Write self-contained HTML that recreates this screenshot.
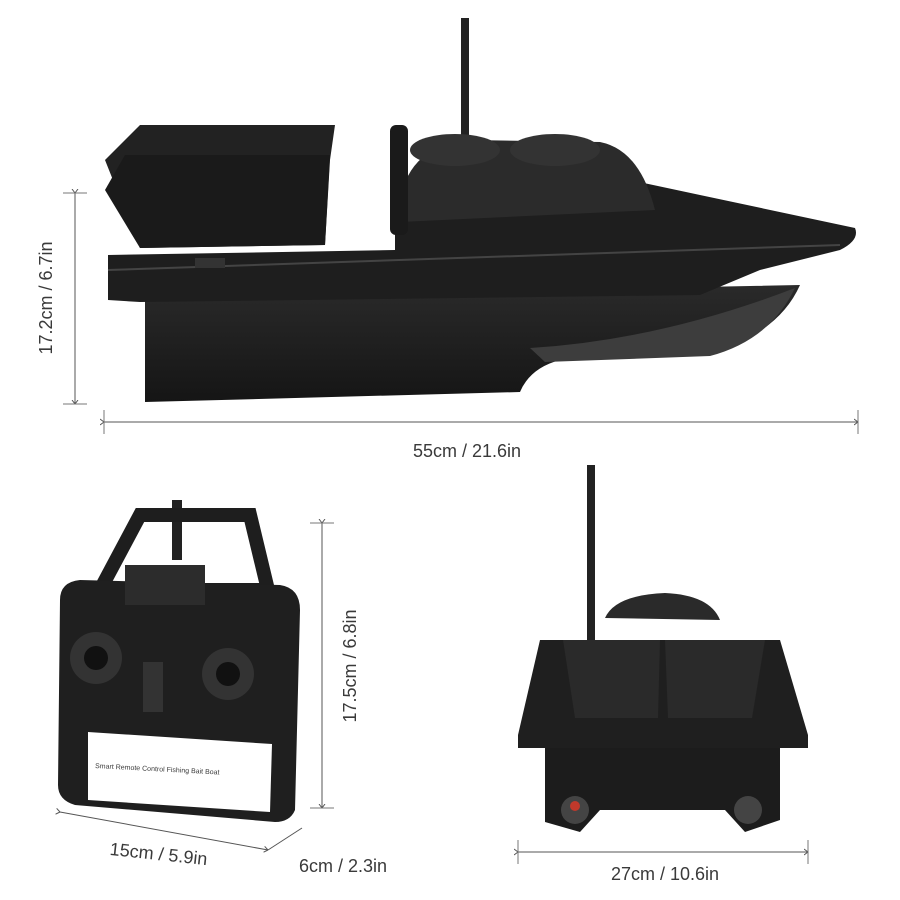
<!DOCTYPE html>
<html><head><meta charset="utf-8"><style>
html,body{margin:0;padding:0;background:#fff;}
svg{display:block}
text{font-family:"Liberation Sans",sans-serif;fill:#3a3a3a;font-size:18px}
</style></head><body>
<svg width="900" height="900" viewBox="0 0 900 900" xmlns="http://www.w3.org/2000/svg">
<defs>
<marker id="a" markerWidth="8" markerHeight="8" refX="4" refY="4" orient="auto"><path d="M4,4 L0,1 M4,4 L0,7" stroke="#555" stroke-width="1" fill="none"/></marker>
<linearGradient id="hull" x1="0" y1="0" x2="0" y2="1"><stop offset="0" stop-color="#2a2a2a"/><stop offset="1" stop-color="#151515"/></linearGradient>
</defs>

<!-- top boat side view -->
<rect x="461" y="18" width="8" height="120" fill="#222"/>
<path d="M145,298 L800,285 Q780,330 720,350 L560,360 Q530,368 520,392 L145,402 Z" fill="url(#hull)"/>
<path d="M530,348 Q660,340 795,288 Q770,340 710,356 L545,362 Z" fill="#3d3d3d"/>
<path d="M108,255 L395,250 L395,180 L630,180 L700,195 L855,228 Q860,240 840,250 L760,270 L700,295 L140,302 L108,300 Z" fill="#1e1e1e"/>
<path d="M108,270 L840,245" stroke="#444" stroke-width="2"/>
<path d="M400,200 Q410,145 470,140 L600,142 Q640,150 655,210 L400,222 Z" fill="#2b2b2b"/>
<ellipse cx="455" cy="150" rx="45" ry="16" fill="#333"/>
<ellipse cx="555" cy="150" rx="45" ry="16" fill="#333"/>
<rect x="390" y="125" width="18" height="110" rx="6" fill="#1a1a1a"/>
<path d="M105,160 L140,125 L335,125 L330,160 L325,245 L140,248 Z" fill="#222"/>
<path d="M105,190 L125,155 L330,155 L325,245 L140,248 Z" fill="#1a1a1a"/>
<rect x="195" y="258" width="30" height="10" fill="#333"/>

<!-- dims top -->
<line x1="75" y1="193" x2="75" y2="404" stroke="#555" marker-start="url(#a)" marker-end="url(#a)"/>
<line x1="63" y1="193" x2="87" y2="193" stroke="#777"/>
<line x1="63" y1="404" x2="87" y2="404" stroke="#777"/>
<text transform="translate(52,298) rotate(-90)" text-anchor="middle">17.2cm / 6.7in</text>
<line x1="104" y1="422" x2="858" y2="422" stroke="#555" marker-start="url(#a)" marker-end="url(#a)"/>
<line x1="104" y1="410" x2="104" y2="434" stroke="#777"/>
<line x1="858" y1="410" x2="858" y2="434" stroke="#777"/>
<text x="467" y="457" text-anchor="middle">55cm / 21.6in</text>

<!-- remote -->
<rect x="172" y="500" width="10" height="60" fill="#222"/>
<path d="M100,590 L140,515 L250,515 L268,590 Z" fill="none" stroke="#1e1e1e" stroke-width="14"/>
<path d="M60,600 Q60,582 80,580 L280,585 Q300,588 300,610 L295,810 Q290,822 275,822 L75,805 Q58,800 58,785 Z" fill="#1f1f1f"/>
<rect x="125" y="565" width="80" height="40" fill="#2c2c2c"/>
<circle cx="96" cy="658" r="26" fill="#333"/><circle cx="96" cy="658" r="12" fill="#111"/>
<circle cx="228" cy="674" r="26" fill="#333"/><circle cx="228" cy="674" r="12" fill="#111"/>
<rect x="143" y="662" width="20" height="50" fill="#333"/>
<path d="M88,732 L272,744 L270,812 L88,800 Z" fill="#fff"/>
<text x="95" y="768" style="font-size:7px" transform="rotate(3,95,768)">Smart Remote Control Fishing Bait Boat</text>

<line x1="322" y1="523" x2="322" y2="808" stroke="#555" marker-start="url(#a)" marker-end="url(#a)"/>
<line x1="310" y1="523" x2="334" y2="523" stroke="#777"/>
<line x1="310" y1="808" x2="334" y2="808" stroke="#777"/>
<text transform="translate(356,666) rotate(-90)" text-anchor="middle">17.5cm / 6.8in</text>
<line x1="60" y1="812" x2="268" y2="850" stroke="#555" marker-start="url(#a)" marker-end="url(#a)"/>
<line x1="268" y1="850" x2="302" y2="828" stroke="#555"/>
<text transform="translate(158,860) rotate(6)" text-anchor="middle">15cm / 5.9in</text>
<text x="343" y="872" text-anchor="middle">6cm / 2.3in</text>

<!-- back view boat -->
<rect x="587" y="465" width="8" height="180" fill="#222"/>
<path d="M605,618 Q615,595 665,593 Q710,595 720,620 Z" fill="#2a2a2a"/>
<path d="M540,640 L780,640 L808,735 L808,748 L518,748 L518,735 Z" fill="#1f1f1f"/>
<path d="M545,748 L780,748 L780,820 L745,832 L725,810 L600,810 L580,832 L545,822 Z" fill="#1c1c1c"/>
<path d="M563,640 L660,640 L658,718 L575,718 Z" fill="#2a2a2a"/>
<path d="M665,640 L765,640 L752,718 L668,718 Z" fill="#2a2a2a"/>
<circle cx="575" cy="810" r="14" fill="#444"/><circle cx="575" cy="806" r="5" fill="#c0392b"/>
<circle cx="748" cy="810" r="14" fill="#444"/>
<line x1="518" y1="852" x2="808" y2="852" stroke="#555" marker-start="url(#a)" marker-end="url(#a)"/>
<line x1="518" y1="840" x2="518" y2="864" stroke="#777"/>
<line x1="808" y1="840" x2="808" y2="864" stroke="#777"/>
<text x="665" y="880" text-anchor="middle">27cm / 10.6in</text>
</svg>
</body></html>
